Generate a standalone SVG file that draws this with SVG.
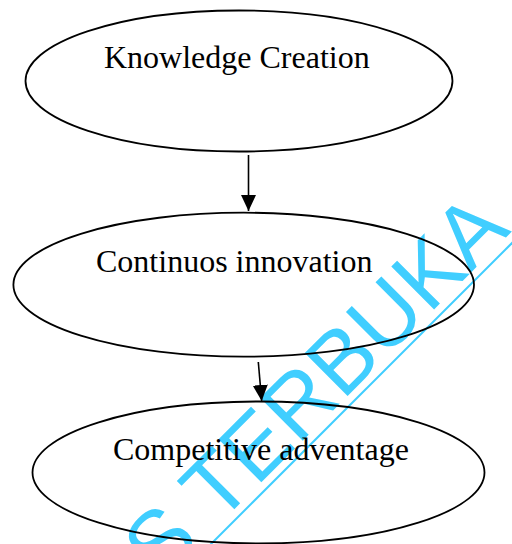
<svg xmlns="http://www.w3.org/2000/svg" width="512" height="544" viewBox="0 0 512 544">
  <style>
    .node { fill: none; stroke: #000; stroke-width: 1.8; }
    .label { font-family: "Liberation Serif", "Times New Roman", serif; font-size: 32px; fill: #000; }
    .edge { stroke: #000; stroke-width: 1.6; fill: none; marker-end: url(#arrow); }
    .wm { font-family: "Liberation Sans", Arial, sans-serif; font-size: 88px; fill: #40ceff; }
    .wm-line { stroke: #40ceff; stroke-width: 2; }
  </style>
  <defs>
    <marker id="arrow" markerUnits="userSpaceOnUse" markerWidth="16" markerHeight="16" refX="16" refY="7.5" orient="auto">
      <path d="M0,0 L16,7.5 L0,15 z" fill="#000"/>
    </marker>
  </defs>
  <rect width="512" height="544" fill="#fff"/>

  <!-- watermark -->
  <g id="watermark">
    <text class="wm" transform="translate(160.5,583) rotate(-45)">S TERBUKA</text>
    <line class="wm-line" x1="195" y1="560" x2="530" y2="225"/>
  </g>

  <g id="connectors">
    <line class="edge" x1="248.5" y1="155" x2="248.5" y2="211"/>
    <line class="edge" x1="258.3" y1="362" x2="261.7" y2="401"/>
  </g>

  <g id="knowledge-creation">
    <ellipse class="node" cx="239" cy="81" rx="213.5" ry="70.5"/>
    <text class="label" x="104" y="68">Knowledge Creation</text>
  </g>

  <g id="continuous-innovation">
    <ellipse class="node" cx="243.7" cy="284.7" rx="230.3" ry="72"/>
    <text class="label" x="96" y="272">Continuos innovation</text>
  </g>

  <g id="competitive-advantage">
    <ellipse class="node" cx="258.5" cy="472.5" rx="226" ry="71"/>
    <text class="label" x="113" y="460">Competitive adventage</text>
  </g>
</svg>
